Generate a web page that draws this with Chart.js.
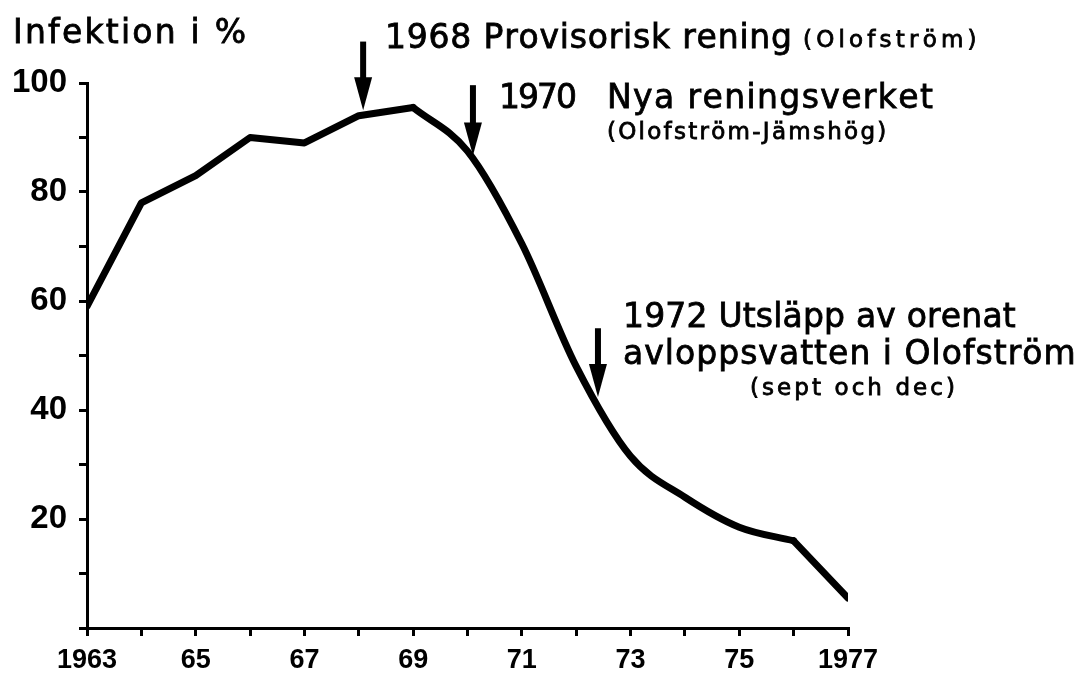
<!DOCTYPE html>
<html>
<head>
<meta charset="utf-8">
<title>Infektion i %</title>
<script src="https://cdn.jsdelivr.net/npm/chart.js@4.4.0/dist/chart.umd.min.js"></script>
<style>
  html, body { margin: 0; padding: 0; background: #fff; }
  #wrap { width: 1080px; height: 675px; }
</style>
</head>
<body>
<div id="wrap"><canvas id="chart" width="1080" height="675"></canvas></div>
<script>
// values
const years = [1963, 1964, 1965, 1966, 1967, 1968, 1969, 1970, 1971, 1972, 1973, 1974, 1975, 1976, 1977];
const infection = [59, 78, 83, 90, 89, 94, 95.5, 87.5, 70.5, 48, 31.5, 24, 18.5, 16, 5.5];

// tick labels
const xTickLabels = { 1963: '1963', 1965: '65', 1967: '67', 1969: '69', 1971: '71', 1973: '73', 1975: '75', 1977: '1977' };
const yTickLabels = { 20: '20', 40: '40', 60: '60', 80: '80', 100: '100' };

// arrows: year where they point, top of shaft and tip (in %)
const arrowYears = [1968.08, 1970.1, 1972.4];
const arrowTops = [107.6, 99.6, 55.0];
const arrowTips = [95.0, 86.7, 42.4];

// the curve is smooth only on the falling part (1969-1976)
const smoothFrom = 1969;
const smoothTo = 1976;

const pts = years.map((y, i) => ({ x: y, y: infection[i] }));
const straightPts = pts.map(p => (p.x > smoothFrom && p.x < smoothTo) ? { x: p.x, y: null } : p);
const smoothPts = pts.filter(p => p.x >= smoothFrom && p.x <= smoothTo);

// draw text stretched to a given width (the lettering in the figure is wide)
function fitText(ctx, str, x, y, width) {
  const chars = [...str];
  const natural = ctx.measureText(str).width;
  const extra = width ? (width - natural) / (chars.length - 1) : 0;
  let cx = x;
  chars.forEach(ch => {
    ctx.fillText(ch, cx, y);
    ctx.strokeText(ch, cx, y);
    cx += ctx.measureText(ch).width + extra;
  });
}

const notesPlugin = {
  id: 'notes',
  afterDatasetsDraw(chart) {
    const { ctx, scales: { x, y } } = chart;
    ctx.save();
    ctx.fillStyle = '#000';
    ctx.strokeStyle = '#000';
    ctx.lineWidth = 0.8;
    // arrows
    arrowYears.forEach((yr, i) => {
      const px = x.getPixelForValue(yr);
      const top = y.getPixelForValue(arrowTops[i]);
      const tip = y.getPixelForValue(arrowTips[i]);
      const head = 33;
      ctx.fillRect(px - 3, top, 6, tip - top - head + 2);
      ctx.beginPath();
      ctx.moveTo(px - 9, tip - head);
      ctx.lineTo(px + 9, tip - head);
      ctx.lineTo(px, tip);
      ctx.closePath();
      ctx.fill();
    });

    // texts
    ctx.textBaseline = 'alphabetic';
    ctx.textAlign = 'left';
    const big = '33px "DejaVu Sans"';
    const small = '23px "DejaVu Sans"';

    ctx.font = big;
    fitText(ctx, 'Infektion i %', 13, 43, 233);

    fitText(ctx, '1968 Provisorisk rening', 385, 48, 405);
    ctx.font = small;
    fitText(ctx, '(Olofström)', 803, 47, 173);

    ctx.font = big;
    fitText(ctx, '1970', 499, 108, 78);
    fitText(ctx, 'Nya reningsverket', 607, 108, 324);
    ctx.font = small;
    fitText(ctx, '(Olofström-Jämshög)', 607, 139, 280);

    ctx.font = big;
    fitText(ctx, '1972 Utsläpp av orenat', 623, 327, 392);
    fitText(ctx, 'avloppsvatten i Olofström', 623, 364, 452);
    ctx.font = small;
    fitText(ctx, '(sept och dec)', 750, 395, 205);
    ctx.restore();
  }
};

const lineStyle = {
  borderColor: '#000',
  borderWidth: 7,
  pointRadius: 0,
  fill: false,
  borderCapStyle: 'round',
  borderJoinStyle: 'round'
};

new Chart(document.getElementById('chart'), {
  type: 'line',
  data: {
    datasets: [
      { ...lineStyle, data: straightPts, tension: 0, spanGaps: false },
      { ...lineStyle, data: smoothPts, cubicInterpolationMode: 'monotone' }
    ]
  },
  options: {
    responsive: false,
    animation: false,
    layout: { padding: { top: 83, right: 232, left: 0, bottom: 0 } },
    plugins: { legend: { display: false }, tooltip: { enabled: false } },
    scales: {
      x: {
        type: 'linear',
        min: 1963,
        max: 1977,
        afterFit(scale) { scale.height = 47; },
        ticks: {
          stepSize: 1,
          autoSkip: false,
          maxRotation: 0,
          padding: 8,
          color: '#000',
          font: { family: 'Liberation Sans', weight: 'bold', size: 27 },
          callback: v => xTickLabels[v] || ''
        },
        grid: { drawOnChartArea: false, color: '#000', lineWidth: 3, tickLength: 8 },
        border: { color: '#000', width: 3 }
      },
      y: {
        min: 0,
        max: 100,
        afterFit(scale) { scale.width = 87; },
        ticks: {
          stepSize: 10,
          autoSkip: false,
          padding: 12,
          color: '#000',
          font: { family: 'Liberation Sans', weight: 'bold', size: 33 },
          callback: v => yTickLabels[v] || ''
        },
        grid: { drawOnChartArea: false, color: '#000', lineWidth: 3, tickLength: 8 },
        border: { color: '#000', width: 3 }
      }
    }
  },
  plugins: [notesPlugin]
});
</script>
</body>
</html>
